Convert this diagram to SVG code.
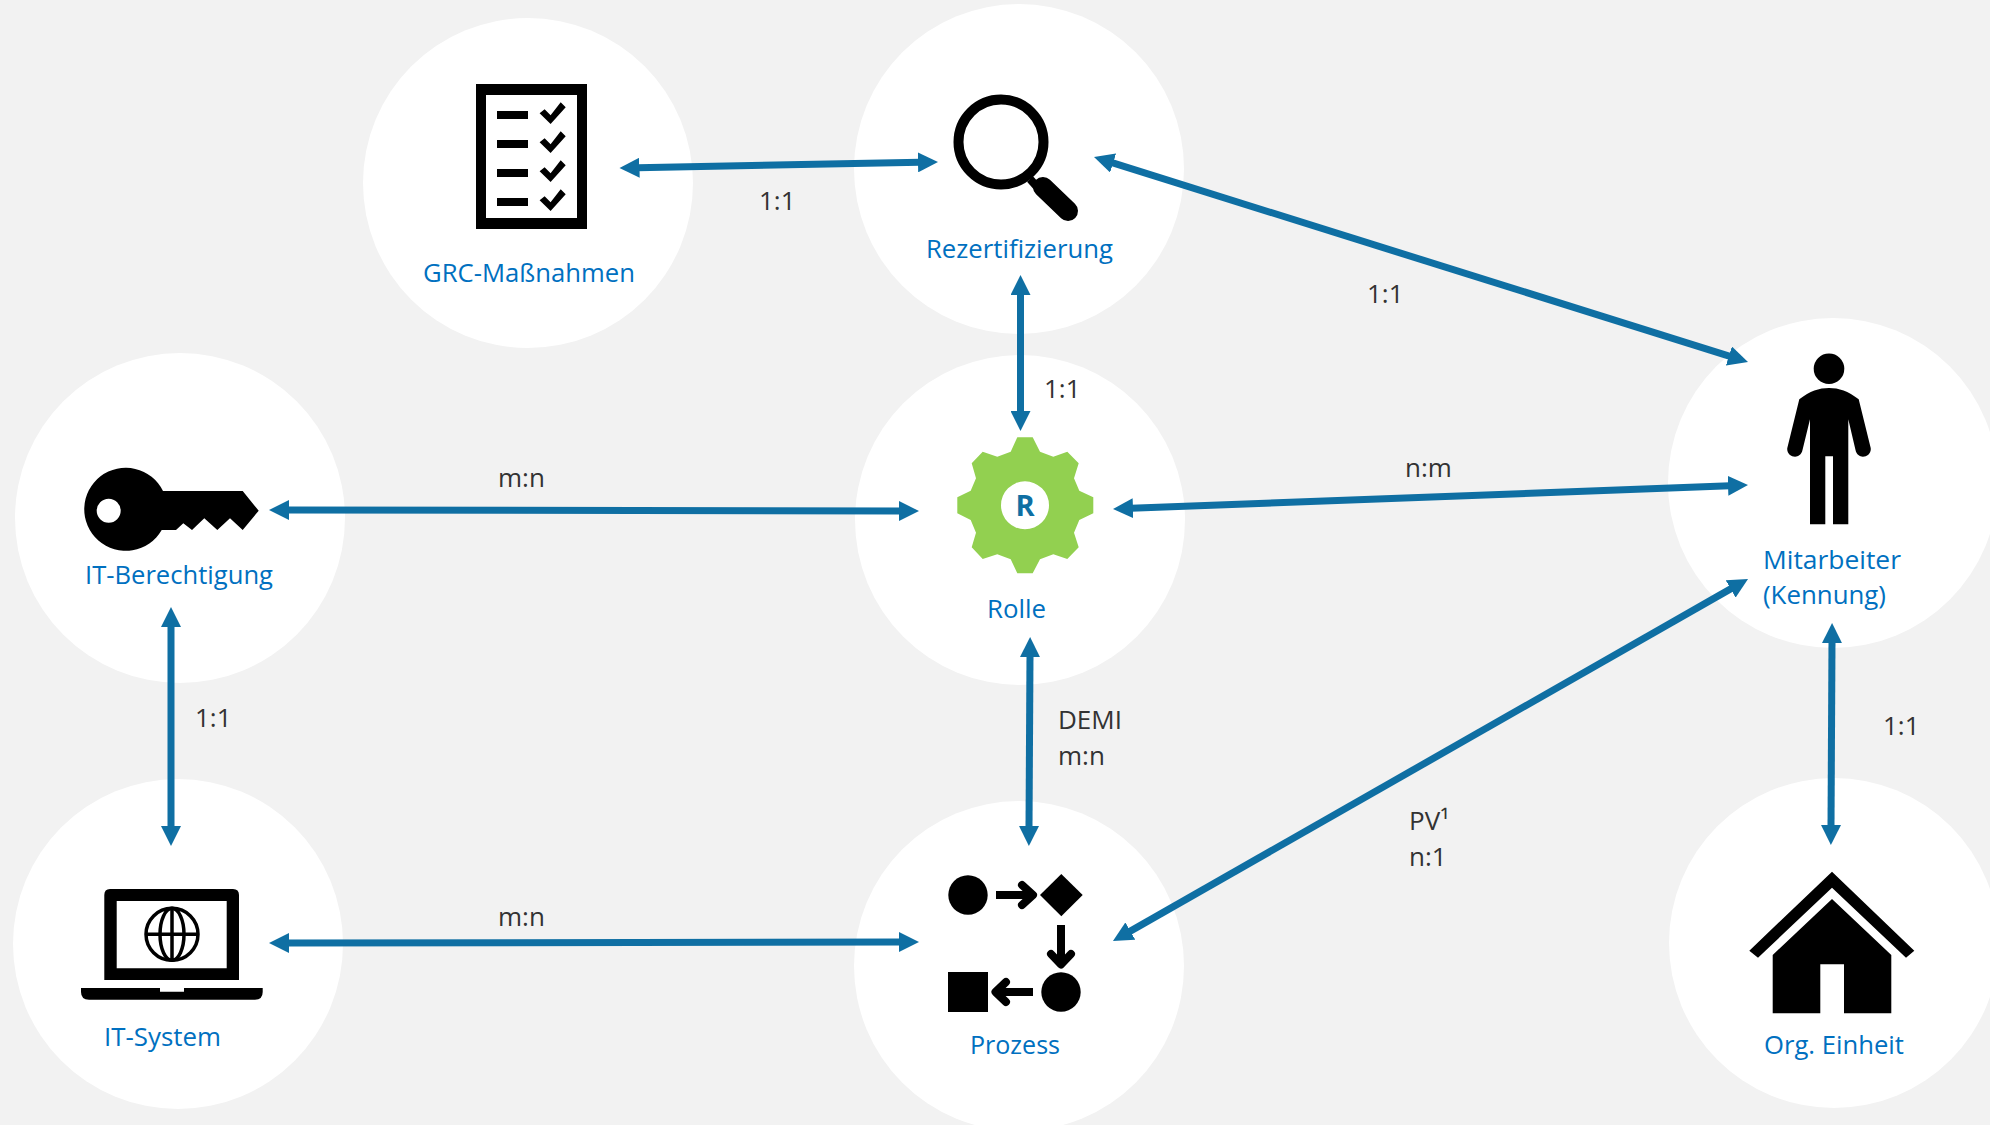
<svg xmlns="http://www.w3.org/2000/svg" width="1990" height="1125" viewBox="0 0 1990 1125">
<style>
.c{fill:#fff}
.l{font-family:"Open Sans","Noto Sans","Liberation Sans",sans-serif;font-size:26px;fill:#0070c0}
.t{font-family:"Open Sans","Noto Sans","Liberation Sans",sans-serif;font-size:26px;fill:#333}
.a{stroke:#0f6fa3;stroke-width:7;fill:none;marker-start:url(#h);marker-end:url(#h)}
.k{stroke:#000;fill:none}
</style>
<defs>
<marker id="h" markerUnits="userSpaceOnUse" markerWidth="20" markerHeight="20" viewBox="0 -10 20 20" refX="2" refY="0" orient="auto-start-reverse"><path d="M0,-10L20,0L0,10z" fill="#0f6fa3"/></marker>
<path id="chk" d="M539.600,113.300L550.600,124L565.700,107.300L560.700,102.300L550.600,115.300L544.600,109.300z"/>
</defs>
<rect width="1990" height="1125" fill="#f2f2f2"/>
<g id="circles">
<circle class="c" cx="528" cy="183" r="165"/><circle class="c" cx="1019" cy="169" r="165"/><circle class="c" cx="180" cy="518" r="165"/><circle class="c" cx="1020" cy="520" r="165"/><circle class="c" cx="1833" cy="483" r="165"/><circle class="c" cx="178" cy="944" r="165"/><circle class="c" cx="1019" cy="966" r="165"/><circle class="c" cx="1834" cy="943" r="165"/>
</g>
<g id="connectors">
<path class="a" d="M637.500,167.700L920,162.300"/>
<path class="a" d="M1111.200,162.400L1730.800,356.600"/>
<path class="a" d="M1020.500,293V413"/>
<path class="a" d="M287,510L901,511"/>
<path class="a" d="M1131,508.300L1730,485.700"/>
<path class="a" d="M171,625V828"/>
<path class="a" d="M1030,655L1029,828"/>
<path class="a" d="M1128.600,932.100L1732.400,587.900"/>
<path class="a" d="M287,943L901,942"/>
<path class="a" d="M1832,641L1831,827"/>
</g>
<g id="edge-labels">
<text class="t" x="759" y="210">1:1</text>
<text class="t" x="1367" y="303">1:1</text>
<text class="t" x="1044" y="398">1:1</text>
<text class="t" x="498" y="487">m:n</text>
<text class="t" x="1405" y="477">n:m</text>
<text class="t" x="195" y="727">1:1</text>
<text class="t" x="1058" y="729">DEMI</text>
<text class="t" x="1058" y="765">m:n</text>
<text class="t" x="1409" y="830">PV¹</text>
<text class="t" x="1409" y="866">n:1</text>
<text class="t" x="498" y="926">m:n</text>
<text class="t" x="1883" y="735">1:1</text>
</g>
<g id="grc">
<path fill-rule="evenodd" d="M476,84H587V229H476zM486,95V218H577V95z"/>
<path d="M497,111h31v8h-31zM497,140h31v8h-31zM497,169h31v8h-31zM497,198h31v8h-31z"/>
<use href="#chk"/><use href="#chk" y="29"/><use href="#chk" y="58"/><use href="#chk" y="87"/>
<text class="l" x="423" y="282" textLength="212" lengthAdjust="spacingAndGlyphs">GRC-Maßnahmen</text>
</g>
<g id="rezertifizierung">
<circle class="k" cx="1001" cy="142" r="42.500" stroke-width="10"/>
<path class="k" d="M1030,179L1046,197" stroke-width="8"/>
<path class="k" d="M1043,187L1068,211" stroke-width="20" stroke-linecap="round"/>
<text class="l" x="926" y="258" textLength="187" lengthAdjust="spacingAndGlyphs">Rezertifizierung</text>
</g>
<g id="it-berechtigung">
<path fill-rule="evenodd" d="M163,491H242.700L258.700,510.700L242.700,530L230,518.300L217.300,530L204.300,518.300L192,530L183.300,523.300L176,530H161.700A41.500,41.500 0 1 1 163,491zM120.700,510.700A12,12 0 1 0 96.700,510.700A12,12 0 1 0 120.700,510.700z"/>
<text class="l" x="85" y="584" textLength="188" lengthAdjust="spacingAndGlyphs">IT-Berechtigung</text>
</g>
<g id="rolle">
<path fill="#92d050" fill-rule="evenodd" d="M1017.300,437.300H1032.700L1040,451.700L1053.300,456.700L1067.300,451.700L1078.700,463.300L1074,478.300L1079.300,490.700L1093.300,497.300V513.300L1079.300,520L1074,532.700L1078.700,547.300L1067.300,559L1053.300,554.300L1040,559.300L1032.700,573.300H1017.300L1010.700,559.300L997.300,554.300L982.700,559L971.700,547.300L976,532.700L970.700,520L957.300,513.300V497.300L970.700,490.700L976,478.300L971.700,463.300L982.700,451.700L997.300,456.700L1010.700,451.700zM1049,505.300A24,24 0 1 0 1001,505.300A24,24 0 1 0 1049,505.300z"/>
<text x="1025" y="516" text-anchor="middle" font-family="'Open Sans',sans-serif" font-weight="700" font-size="29" fill="#0f6fa3">R</text>
<text class="l" x="987" y="618" textLength="59" lengthAdjust="spacingAndGlyphs">Rolle</text>
</g>
<g id="mitarbeiter">
<circle cx="1829" cy="368.700" r="15.300"/>
<path d="M1799.300,399.300C1810,391 1819,388 1829,388C1839,388 1848,391 1858.700,399.300L1870.700,448C1872,457 1858,461 1855.500,450L1848.300,419.300V524.300H1833V456.300H1825.300V524.300H1810V419.300L1802.500,450C1800,461 1786,457 1787.300,448z"/>
<text class="l" x="1763" y="569" textLength="138" lengthAdjust="spacingAndGlyphs">Mitarbeiter</text>
<text class="l" x="1763" y="604" textLength="123" lengthAdjust="spacingAndGlyphs">(Kennung)</text>
</g>
<g id="it-system">
<path fill-rule="evenodd" d="M110,889H233Q239,889 239,895V980H104.300V895Q104.300,889 110,889zM116.700,901V968.300H226.700V901z"/>
<path d="M81,988H160V991.700H184V988H262.700V992Q262.700,999.700 255,999.700H89Q81,999.700 81,992z"/>
<g class="k" stroke-width="3.500"><circle cx="172" cy="934.300" r="26"/><ellipse cx="172" cy="934.300" rx="12" ry="26"/><path d="M172,908V960M146,934.300H198"/></g>
<text class="l" x="104" y="1046" textLength="117" lengthAdjust="spacingAndGlyphs">IT-System</text>
</g>
<g id="prozess">
<circle cx="968" cy="895" r="19.700"/><path d="M1061.300,874L1082.700,895L1061.300,916.300L1040,895z"/>
<circle cx="1061" cy="992" r="19.700"/><rect x="948" y="972" width="40" height="40"/>
<g class="k" stroke-width="8"><path d="M996,895H1030"/><path d="M1061,925V962"/><path d="M1033,992H997"/></g>
<g class="k" stroke-width="8" stroke-linecap="round" stroke-linejoin="round"><path d="M1022,885L1033,895L1022,905"/><path d="M1051,954L1061,964.500L1071,954"/><path d="M1006,982L995.500,992L1006,1002"/></g>
<text class="l" x="970" y="1054" textLength="90" lengthAdjust="spacingAndGlyphs">Prozess</text>
</g>
<g id="org-einheit">
<path d="M1832,871.700L1914.300,950.700L1906,957.700L1832,887.700L1758,957.700L1749.300,950.700z"/>
<path d="M1832,899L1891.300,955V1013.300H1844V964.300H1820.300V1013.300H1772.700V955z"/>
<text class="l" x="1764" y="1054" textLength="140" lengthAdjust="spacingAndGlyphs">Org. Einheit</text>
</g>
</svg>
